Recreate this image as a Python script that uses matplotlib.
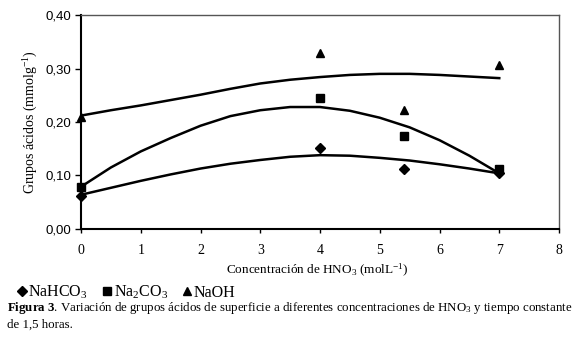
import numpy as np
import matplotlib
matplotlib.use("Agg")
import matplotlib.pyplot as plt

serif = "Liberation Serif"
sans = "Liberation Sans"
plt.rcParams["mathtext.fontset"] = "custom"
plt.rcParams["mathtext.rm"] = serif
plt.rcParams["mathtext.it"] = serif + ":italic"
plt.rcParams["mathtext.bf"] = serif + ":bold"

# datos medidos
conc = [0, 4, 5.4, 7]
nahco3 = [0.062, 0.151, 0.112, 0.104]
na2co3 = [0.078, 0.244, 0.174, 0.113]
naoh = [0.210, 0.329, 0.223, 0.306]

# lineas de tendencia
conc_t = [0, 0.5, 1, 1.5, 2, 2.5, 3, 3.5, 4, 4.5, 5, 5.5, 6, 6.5, 7]
nahco3_t = [0.064, 0.077, 0.090, 0.102, 0.113, 0.122, 0.129, 0.135, 0.138,
            0.137, 0.133, 0.128, 0.121, 0.113, 0.104]
na2co3_t = [0.079, 0.115, 0.145, 0.170, 0.193, 0.211, 0.222, 0.228, 0.228,
            0.221, 0.208, 0.190, 0.166, 0.137, 0.104]
naoh_t = [0.212, 0.222, 0.231, 0.241, 0.251, 0.262, 0.272, 0.279, 0.284,
          0.288, 0.290, 0.290, 0.288, 0.285, 0.282]

xticks = [0, 1, 2, 3, 4, 5, 6, 7, 8]
yticks = [0.0, 0.1, 0.2, 0.3, 0.4]

fig = plt.figure(figsize=(5.8, 3.38), dpi=100)
ax = fig.add_axes([0.1397, 0.3225, 0.8241, 0.6331])

ax.plot(conc_t, naoh_t, color="black", lw=1.8)
ax.plot(conc_t, na2co3_t, color="black", lw=1.8)
ax.plot(conc_t, nahco3_t, color="black", lw=1.8)

h1, = ax.plot(conc, nahco3, "D", color="black", ms=5, ls="none",
              clip_on=False, zorder=5, label="NaHCO$_3$")
h2, = ax.plot(conc, na2co3, "s", color="black", ms=5.5, ls="none",
              clip_on=False, zorder=5, label="Na$_2$CO$_3$")
h3, = ax.plot(conc, naoh, "^", color="black", ms=6, ls="none",
              clip_on=False, zorder=5, label="NaOH")

ax.set_xlim(0, 8)
ax.set_ylim(0, 0.4)
ax.set_xticks(xticks)
ax.set_yticks(yticks)
ax.set_xticklabels([str(t) for t in xticks], fontfamily=serif, fontsize=10)
ax.set_yticklabels([f"{t:.2f}".replace(".", ",") for t in yticks],
                   fontfamily=sans, fontsize=9.5)
ax.tick_params(axis="y", direction="out", length=4, width=1, pad=3)
ax.tick_params(axis="x", direction="out", length=3, width=1, pad=8)

for s in ["left", "bottom"]:
    ax.spines[s].set_linewidth(1.5)
    ax.spines[s].set_color("black")
for s in ["top", "right"]:
    ax.spines[s].set_linewidth(1.0)
    ax.spines[s].set_color("#555555")

ax.set_ylabel("Grupos ácidos (mmolg$^{-1}$)", fontfamily=serif,
              fontsize=10, labelpad=4)

fig.text(0.547, 0.2, "Concentración de HNO$_3$ (molL$^{-1}$)", ha="center",
         va="center", fontfamily=serif, fontsize=9.5)

fig.legend(handles=[h1, h2, h3], loc="center left", bbox_to_anchor=(0.005, 0.135),
           ncol=3, frameon=False, handlelength=0.6, handletextpad=0.1,
           columnspacing=0.9, prop={"family": serif, "size": 11.5})

fig.text(0.012, 0.088, "$\\mathbf{Figura\\ 3}$. Variación de grupos ácidos de superficie "
         "a diferentes concentraciones de HNO$_3$ y tiempo constante",
         fontfamily=serif, fontsize=9.3, va="center")
fig.text(0.012, 0.038, "de 1,5 horas.", fontfamily=serif, fontsize=9.3, va="center")

fig.savefig("out.png", dpi=100)
